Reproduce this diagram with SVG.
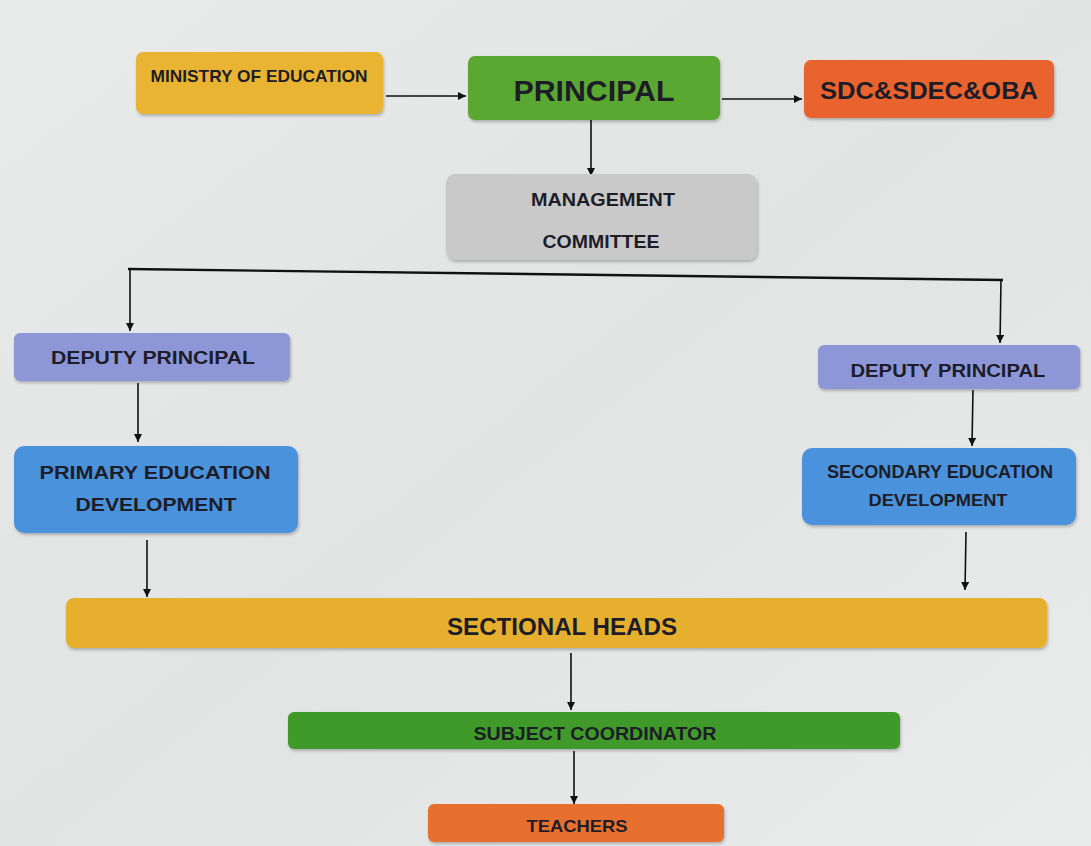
<svg xmlns="http://www.w3.org/2000/svg" width="1091" height="846" viewBox="0 0 1091 846">
<defs>
<linearGradient id="bg" x1="0" y1="0" x2="1" y2="1">
<stop offset="0" stop-color="#e9eaea"/>
<stop offset="0.5" stop-color="#e2e4e4"/>
<stop offset="1" stop-color="#eaebeb"/>
</linearGradient>
<filter id="sh" x="-5%" y="-20%" width="110%" height="150%">
<feDropShadow dx="1" dy="2" stdDeviation="1.5" flood-color="#000" flood-opacity="0.25"/>
</filter>
<marker id="ah" viewBox="0 0 10 10" refX="10" refY="5" markerWidth="8" markerHeight="8" markerUnits="userSpaceOnUse" orient="auto">
<path d="M0,0 L10,5 L0,10 z" fill="#111"/>
</marker>
</defs>
<style>
.box{filter:url(#sh);}
.t{font-family:"Liberation Sans",Arial,sans-serif;font-weight:bold;fill:#1d1d28;text-anchor:middle;}
.c{stroke:#111;stroke-width:1.6;fill:none;}
.a{marker-end:url(#ah);}
</style>
<rect width="1091" height="846" fill="url(#bg)"/>

<g id="connectors">
<line class="c a" x1="386" y1="96" x2="466" y2="96"/>
<line class="c a" x1="722" y1="99" x2="802" y2="99"/>
<line class="c a" x1="591" y1="114" x2="591" y2="176"/>
<polyline class="c" style="stroke-width:2.4" points="128,269 1003,280"/>
<line class="c a" x1="130" y1="269" x2="130" y2="331"/>
<line class="c a" x1="1001" y1="280" x2="1000" y2="343"/>
<line class="c a" x1="138" y1="383" x2="138" y2="442"/>
<line class="c a" x1="973" y1="390" x2="972" y2="446"/>
<line class="c a" x1="147" y1="540" x2="147" y2="597"/>
<line class="c a" x1="966" y1="532" x2="965" y2="590"/>
<line class="c a" x1="571" y1="653" x2="571" y2="710"/>
<line class="c a" x1="574" y1="751" x2="574" y2="804"/>
</g>

<g id="ministry">
<rect class="box" x="136" y="52" width="247" height="62" rx="7" fill="#e9b432"/>
<text class="t" x="259" y="82" font-size="17" textLength="217" lengthAdjust="spacingAndGlyphs">MINISTRY OF EDUCATION</text>
</g>
<g id="principal">
<rect class="box" x="468" y="56" width="252" height="64" rx="7" fill="#5aa833"/>
<text class="t" x="594" y="101" font-size="29" textLength="161" lengthAdjust="spacingAndGlyphs">PRINCIPAL</text>
</g>
<g id="sdc">
<rect class="box" x="804" y="60" width="250" height="58" rx="7" fill="#e9632e"/>
<text class="t" x="929" y="99" font-size="24" textLength="218" lengthAdjust="spacingAndGlyphs">SDC&amp;SDEC&amp;OBA</text>
</g>
<g id="management">
<rect class="box" x="446" y="174" width="311" height="86" rx="9" fill="#c9c9c9"/>
<text class="t" x="603" y="206" font-size="18" textLength="144" lengthAdjust="spacingAndGlyphs">MANAGEMENT</text>
<text class="t" x="601" y="248" font-size="18" textLength="117" lengthAdjust="spacingAndGlyphs">COMMITTEE</text>
</g>
<g id="deputy-left">
<rect class="box" x="14" y="333" width="276" height="48" rx="6" fill="#8d97d8"/>
<text class="t" x="153" y="364" font-size="19" textLength="204" lengthAdjust="spacingAndGlyphs">DEPUTY PRINCIPAL</text>
</g>
<g id="deputy-right">
<rect class="box" x="818" y="345" width="262" height="44" rx="6" fill="#8d97d8"/>
<text class="t" x="948" y="377" font-size="19" textLength="195" lengthAdjust="spacingAndGlyphs">DEPUTY PRINCIPAL</text>
</g>
<g id="primary">
<rect class="box" x="14" y="446" width="284" height="87" rx="10" fill="#4b92dc"/>
<text class="t" x="155" y="479" font-size="19" textLength="231" lengthAdjust="spacingAndGlyphs">PRIMARY EDUCATION</text>
<text class="t" x="156" y="511" font-size="19" textLength="161" lengthAdjust="spacingAndGlyphs">DEVELOPMENT</text>
</g>
<g id="secondary">
<rect class="box" x="802" y="448" width="274" height="77" rx="10" fill="#4b92dc"/>
<text class="t" x="940" y="478" font-size="18" textLength="226" lengthAdjust="spacingAndGlyphs">SECONDARY EDUCATION</text>
<text class="t" x="938" y="506" font-size="17" textLength="139" lengthAdjust="spacingAndGlyphs">DEVELOPMENT</text>
</g>
<g id="sectional">
<rect class="box" x="66" y="598" width="981" height="50" rx="8" fill="#e6b02e"/>
<text class="t" x="562" y="635" font-size="23" textLength="230" lengthAdjust="spacingAndGlyphs">SECTIONAL HEADS</text>
</g>
<g id="subject">
<rect class="box" x="288" y="712" width="612" height="37" rx="6" fill="#3f9a2a"/>
<text class="t" x="595" y="740" font-size="18" textLength="243" lengthAdjust="spacingAndGlyphs">SUBJECT COORDINATOR</text>
</g>
<g id="teachers">
<rect class="box" x="428" y="804" width="296" height="38" rx="6" fill="#e86f2e"/>
<text class="t" x="577" y="832" font-size="17" textLength="101" lengthAdjust="spacingAndGlyphs">TEACHERS</text>
</g>
</svg>
